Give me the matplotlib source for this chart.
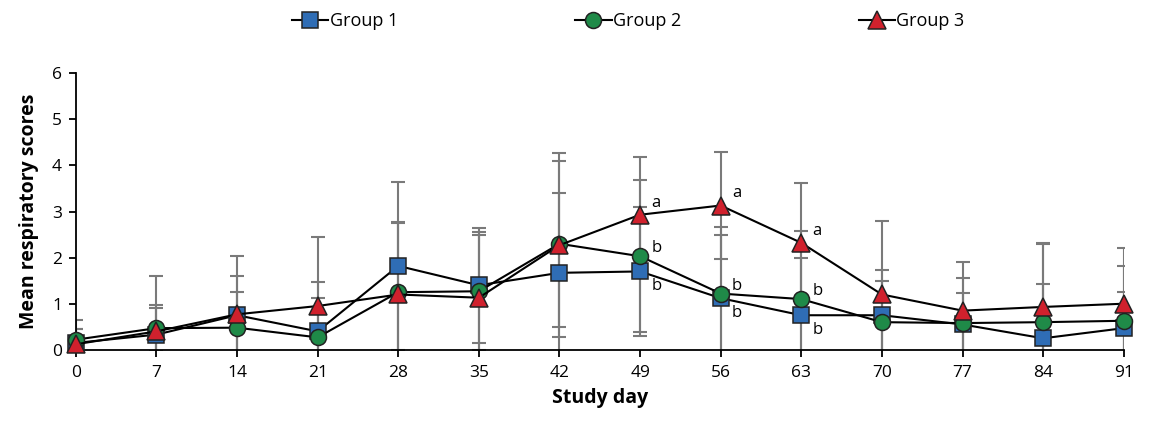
import numpy as np
import matplotlib
matplotlib.use("Agg")
import matplotlib.pyplot as plt

plt.rcParams['font.family'] = ['Open Sans', 'DejaVu Sans']

# Dados
dias = [0, 7, 14, 21, 28, 35, 42, 49, 56, 63, 70, 77, 84, 91]

grupo1 = [0.15, 0.33, 0.75, 0.40, 1.82, 1.40, 1.67, 1.70, 1.12, 0.75, 0.75, 0.55, 0.25, 0.47]
grupo2 = [0.22, 0.47, 0.48, 0.27, 1.25, 1.27, 2.30, 2.03, 1.22, 1.10, 0.60, 0.58, 0.60, 0.63]
grupo3 = [0.12, 0.40, 0.77, 0.95, 1.20, 1.13, 2.27, 2.93, 3.13, 2.32, 1.20, 0.85, 0.93, 1.00]

dp1 = [0.30, 0.57, 0.85, 1.07, 1.82, 1.25, 1.73, 1.40, 1.37, 1.24, 0.98, 0.68, 1.18, 0.79]
dp2 = [0.43, 0.50, 0.78, 0.85, 1.52, 1.28, 1.80, 1.65, 1.45, 1.48, 0.89, 0.98, 1.69, 1.19]
dp3 = [0.33, 1.20, 1.26, 1.50, 1.55, 1.37, 2.00, 1.25, 1.16, 1.30, 1.59, 1.05, 1.38, 1.20]

nomes = ["Group 1", "Group 2", "Group 3"]
cores = ["#2F6DB5", "#1F8A48", "#D0212D"]
marcadores = ["s", "o", "^"]
tamanhos = [11.5, 11.5, 12.5]

# Letras de significância
letras_dias = [49, 56, 63]
letras_g1 = ["b", "b", "b"]
letras_g2 = ["b", "b", "b"]
letras_g3 = ["a", "a", "a"]

fig = plt.figure(figsize=(11.49, 4.23), dpi=100)
ax = fig.add_axes([0.066, 0.173, 0.912, 0.654])

series = [grupo1, grupo2, grupo3]
dps = [dp1, dp2, dp3]

# Barras de erro primeiro (atrás das linhas)
for y, e in zip(series, dps):
    ax.errorbar(dias, y, yerr=e, fmt='none', ecolor='#7a7a7a', elinewidth=1.5,
                capsize=5, capthick=1.5, zorder=1)

linhas = []
for y, c, m, s, n in zip(series, cores, marcadores, tamanhos, nomes):
    l, = ax.plot(dias, y, color='black', lw=1.5, marker=m, markersize=s,
                 markerfacecolor=c, markeredgecolor='#222222', markeredgewidth=1.1,
                 label=n, zorder=3, clip_on=False)
    linhas.append(l)

# Letras
for i, d in enumerate(letras_dias):
    k = dias.index(d)
    ax.annotate(letras_g3[i], (d, grupo3[k]), xytext=(8, 3), textcoords='offset points',
                fontsize=12, va='bottom', ha='left')
    ax.annotate(letras_g2[i], (d, grupo2[k]), xytext=(8, 0), textcoords='offset points',
                fontsize=12, va='bottom', ha='left')
    ax.annotate(letras_g1[i], (d, grupo1[k]), xytext=(8, -5), textcoords='offset points',
                fontsize=12, va='top', ha='left')

ax.set_xlim(0, 91)
ax.set_ylim(0, 6)
ax.set_xticks(dias)
ax.set_yticks(range(0, 7))
ax.spines['top'].set_visible(False)
ax.spines['right'].set_visible(False)
ax.spines['left'].set_linewidth(1.3)
ax.spines['bottom'].set_linewidth(1.3)
ax.tick_params(axis='both', labelsize=12.5, width=1.3, length=5, direction='out')
ax.tick_params(axis='x', pad=6)
ax.tick_params(axis='y', pad=5)
ax.set_xlabel("Study day", fontsize=14, fontweight='bold', labelpad=5)
ax.set_ylabel("Mean respiratory scores", fontsize=14, fontweight='bold', labelpad=9)

fig.legend(handles=linhas, loc='center', bbox_to_anchor=(0.547, 0.95), ncol=3,
           frameon=False, fontsize=13, handlelength=2.0, handletextpad=0.1,
           columnspacing=9.8)

fig.savefig("out.png", dpi=100)
